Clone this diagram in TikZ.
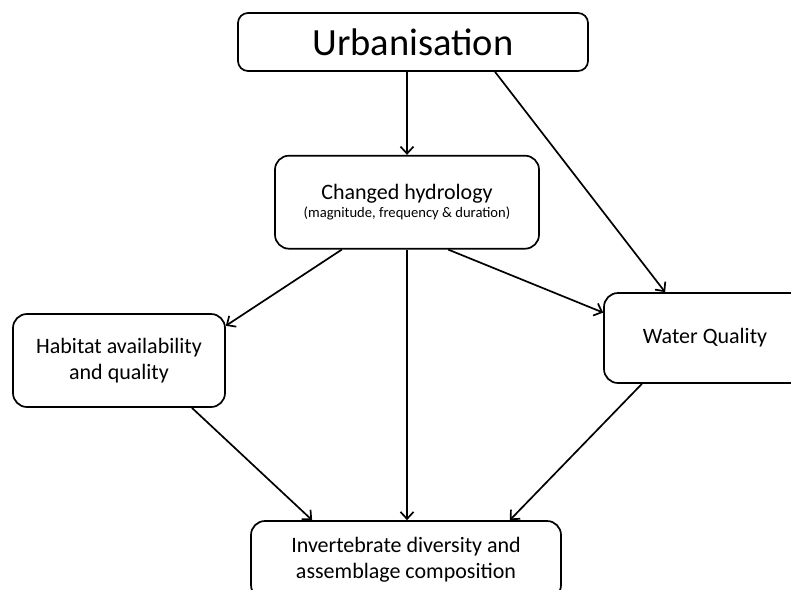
\documentclass[tikz,border=0pt]{standalone}
\usepackage{fontspec}
\setmainfont{Carlito}
\usetikzlibrary{positioning, arrows.meta}
\tikzset {
  box/.style = {draw, line width=1.7pt, rectangle, rounded corners=14pt, fill=white, align=center, inner sep=0pt, font=\fontsize{22}{26}\selectfont},
  bigbox/.style = {box, rounded corners=10pt, font=\fontsize{38.5}{42}\selectfont},
  line/.style = {->, line width=1.7pt, color=black, >={Straight Barb[length=7pt, width=13pt]}},
}
\begin{document}
\begin{tikzpicture}[x=1pt, y=-1pt]
    \useasboundingbox (0,0) rectangle (791,589);

    \node[bigbox, minimum width=350pt, minimum height=58pt] (urban) at (413,42) {Urbanisation};
    \node[box, minimum width=264pt, minimum height=93pt, below=83pt of urban, xshift=-6pt] (hydro) {Changed hydrology\\[-8pt]{\fontsize{14.6}{16}\selectfont (magnitude, frequency \& duration)}};
    \node[box, minimum width=212pt, minimum height=93pt] (habitat) at (119,360.5) {Habitat availability\\and quality};
    \node[box, minimum width=202pt, minimum height=90pt] (water) at (705,338) {Water Quality};
    \node[box, minimum width=310pt, minimum height=78pt] (invert) at (406,560) {Invertebrate diversity and\\assemblage composition};

    \draw[line] (hydro.north |- urban.south) -- (hydro.north);
    \draw[line] (urban.-20.2) -- (water.131.6);
    \draw[line] (hydro.216.9) -- (habitat.18);
    \draw[line] (hydro.south) -- (hydro.south |- invert.north);
    \draw[line] (hydro.-49.3) -- (water.166.1);
    \draw[line] (habitat.-33.6) -- (invert.157.9);
    \draw[line] (water.216.9) -- (invert.21.1);

\end{tikzpicture}
\end{document}
